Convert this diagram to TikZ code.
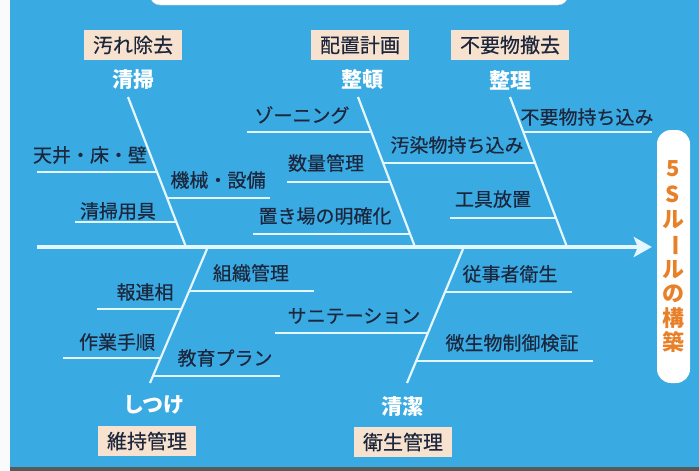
\documentclass[tikz,border=0pt]{standalone}
\usepackage{fontspec}
\newfontfamily\jp{Noto Sans CJK JP}
\newfontfamily\jpm{Noto Sans CJK JP}[FakeBold=0.35]
\usetikzlibrary{arrows.meta}
\definecolor{bgblue}{RGB}{58,170,226}
\definecolor{bone}{RGB}{228,246,255}
\definecolor{peach}{RGB}{246,226,206}
\definecolor{ink}{RGB}{28,38,60}
\definecolor{orng}{RGB}{232,128,40}
\definecolor{edgegrey}{RGB}{200,205,210}
\begin{document}
\begin{tikzpicture}[x=1pt,y=-1pt,
  item/.style={font=\jpm\fontsize{19}{19}\selectfont, text=ink, inner sep=0pt},
  cat/.style={font=\jp\bfseries\fontsize{21}{21}\selectfont, text=white, inner sep=0pt},
  tag/.style={font=\jpm\fontsize{20}{20}\selectfont, text=ink, fill=peach, inner xsep=9pt, inner ysep=0pt, minimum height=30pt},
  bonel/.style={draw=bone, line width=2.2pt},
  subl/.style={draw=bone, line width=1.8pt},
  spine/.style={draw=bone, line width=4pt, -{Stealth[length=18pt,width=20pt,inset=4pt]}},
  vch/.style={font=\jp\bfseries\fontsize{22}{22}\selectfont, text=orng, inner sep=0pt}]
\useasboundingbox (0,0) rectangle (699,471);
% background
\fill[white!96!gray] (0,0) rectangle (699,471);
\fill[bgblue] (10,0) rectangle (699,467);
\fill[gray!70!black] (10,467) rectangle (699,471);
\draw[edgegrey, fill=white, rounded corners=10pt] (150,-25) rectangle (568,5);

% goal box
\node[fill=white, rounded corners=14pt, minimum width=33pt, minimum height=253pt, inner sep=0pt] (goal) at (673.5,256.5) {};
\node[vch] (g1) at (673,169) {5};
\node[vch] (g2) at (673,194) {S};
\node[vch] (g3) at (673,220) {ル};
\node[vch, rotate=-90] (g4) at (673,245) {ー};
\node[vch] (g5) at (673,270) {ル};
\node[vch] (g6) at (673,294) {の};
\node[vch] (g7) at (673,318) {構};
\node[vch] (g8) at (673,342) {築};

% spine
\coordinate (sp0) at (37,247);
\draw[spine, shorten >=5pt] (sp0) -- (sp0 -| goal.west);

% tags and category labels
\node[tag] (t1) at (133,45) {汚れ除去};
\node[tag] (t2) at (360,45) {配置計画};
\node[tag] (t3) at (510,45) {不要物撤去};
\node[tag] (t4) at (147,441) {維持管理};
\node[tag] (t5) at (403,442) {衛生管理};
\node[cat] (c1) at (133,80) {清掃};
\node[cat] (c2) at (362,80) {整頓};
\node[cat] (c3) at (510,80) {整理};
\node[cat] (c4) at (154,405) {しつけ};
\node[cat] (c5) at (402,406) {清潔};

% bones
\coordinate (b1t) at (128,97);  \coordinate (b1s) at (186,247);
\coordinate (b2t) at (358,97);  \coordinate (b2s) at (415,247);
\coordinate (b3t) at (510,97);  \coordinate (b3s) at (567,247);
\coordinate (b4s) at (207,249); \coordinate (b4b) at (150,383);
\coordinate (b5s) at (463,249); \coordinate (b5b) at (407,383);
\draw[bonel] (b1t) -- (b1s);
\draw[bonel] (b2t) -- (b2s);
\draw[bonel] (b3t) -- (b3s);
\draw[bonel] (b4s) -- (b4b);
\draw[bonel] (b5s) -- (b5b);

% sub-bones: 清掃
\coordinate (a1) at (37,172);  \coordinate (a1e) at (157,172);
\coordinate (a2) at (75,222);  \coordinate (a2e) at (176,222);
\coordinate (a3e) at (167,198); \coordinate (a3) at (270,198);
\draw[subl] (a1) -- (a1e);
\draw[subl] (a2) -- (a2e);
\draw[subl] (a3e) -- (a3);
\node[item] (n1) at (90,155) {天井・床・壁};
\node[item] (n2) at (118,211) {清掃用具};
\node[item] (n3) at (218,180) {機械・設備};

% 整頓
\coordinate (d1) at (247,132); \coordinate (d1e) at (371,132);
\coordinate (d2) at (287,182); \coordinate (d2e) at (390,182);
\coordinate (d3) at (253,234); \coordinate (d3e) at (410,234);
\coordinate (d4e) at (383,163); \coordinate (d4) at (535,163);
\draw[subl] (d1) -- (d1e);
\draw[subl] (d2) -- (d2e);
\draw[subl] (d3) -- (d3e);
\draw[subl] (d4e) -- (d4);
\node[item] (n4) at (302,115) {ゾーニング};
\node[item] (n5) at (326,163) {数量管理};
\node[item] (n6) at (325,216) {置き場の明確化};
\node[item] (n7) at (457,145) {汚染物持ち込み};

% 整理
\coordinate (e1e) at (523,132); \coordinate (e1) at (652,132);
\coordinate (e2) at (450,218); \coordinate (e2e) at (556,218);
\draw[subl] (e1e) -- (e1);
\draw[subl] (e2) -- (e2e);
\node[item] (n8) at (587,117) {不要物持ち込み};
\node[item] (n9) at (493,199) {工具放置};

% しつけ
\coordinate (f1e) at (189,291); \coordinate (f1) at (314,291);
\coordinate (f2) at (97,309);   \coordinate (f2e) at (181.5,309);
\coordinate (f3) at (63,358);   \coordinate (f3e) at (160.7,358);
\coordinate (f4e) at (153,376); \coordinate (f4) at (280,376);
\draw[subl] (f1e) -- (f1);
\draw[subl] (f2) -- (f2e);
\draw[subl] (f3) -- (f3e);
\draw[subl] (f4e) -- (f4);
\node[item] (n10) at (251,273) {組織管理};
\node[item] (n11) at (145,292) {報連相};
\node[item] (n12) at (117,342) {作業手順};
\node[item] (n13) at (225,358) {教育プラン};

% 清潔
\coordinate (h1e) at (445,292); \coordinate (h1) at (572,292);
\coordinate (h2) at (275,333);  \coordinate (h2e) at (428,333);
\coordinate (h3e) at (416,361); \coordinate (h3) at (593,361);
\draw[subl] (h1e) -- (h1);
\draw[subl] (h2) -- (h2e);
\draw[subl] (h3e) -- (h3);
\node[item] (n14) at (510,274) {従事者衛生};
\node[item] (n15) at (354,316) {サニテーション};
\node[item] (n16) at (512,343) {微生物制御検証};
\end{tikzpicture}
\end{document}
